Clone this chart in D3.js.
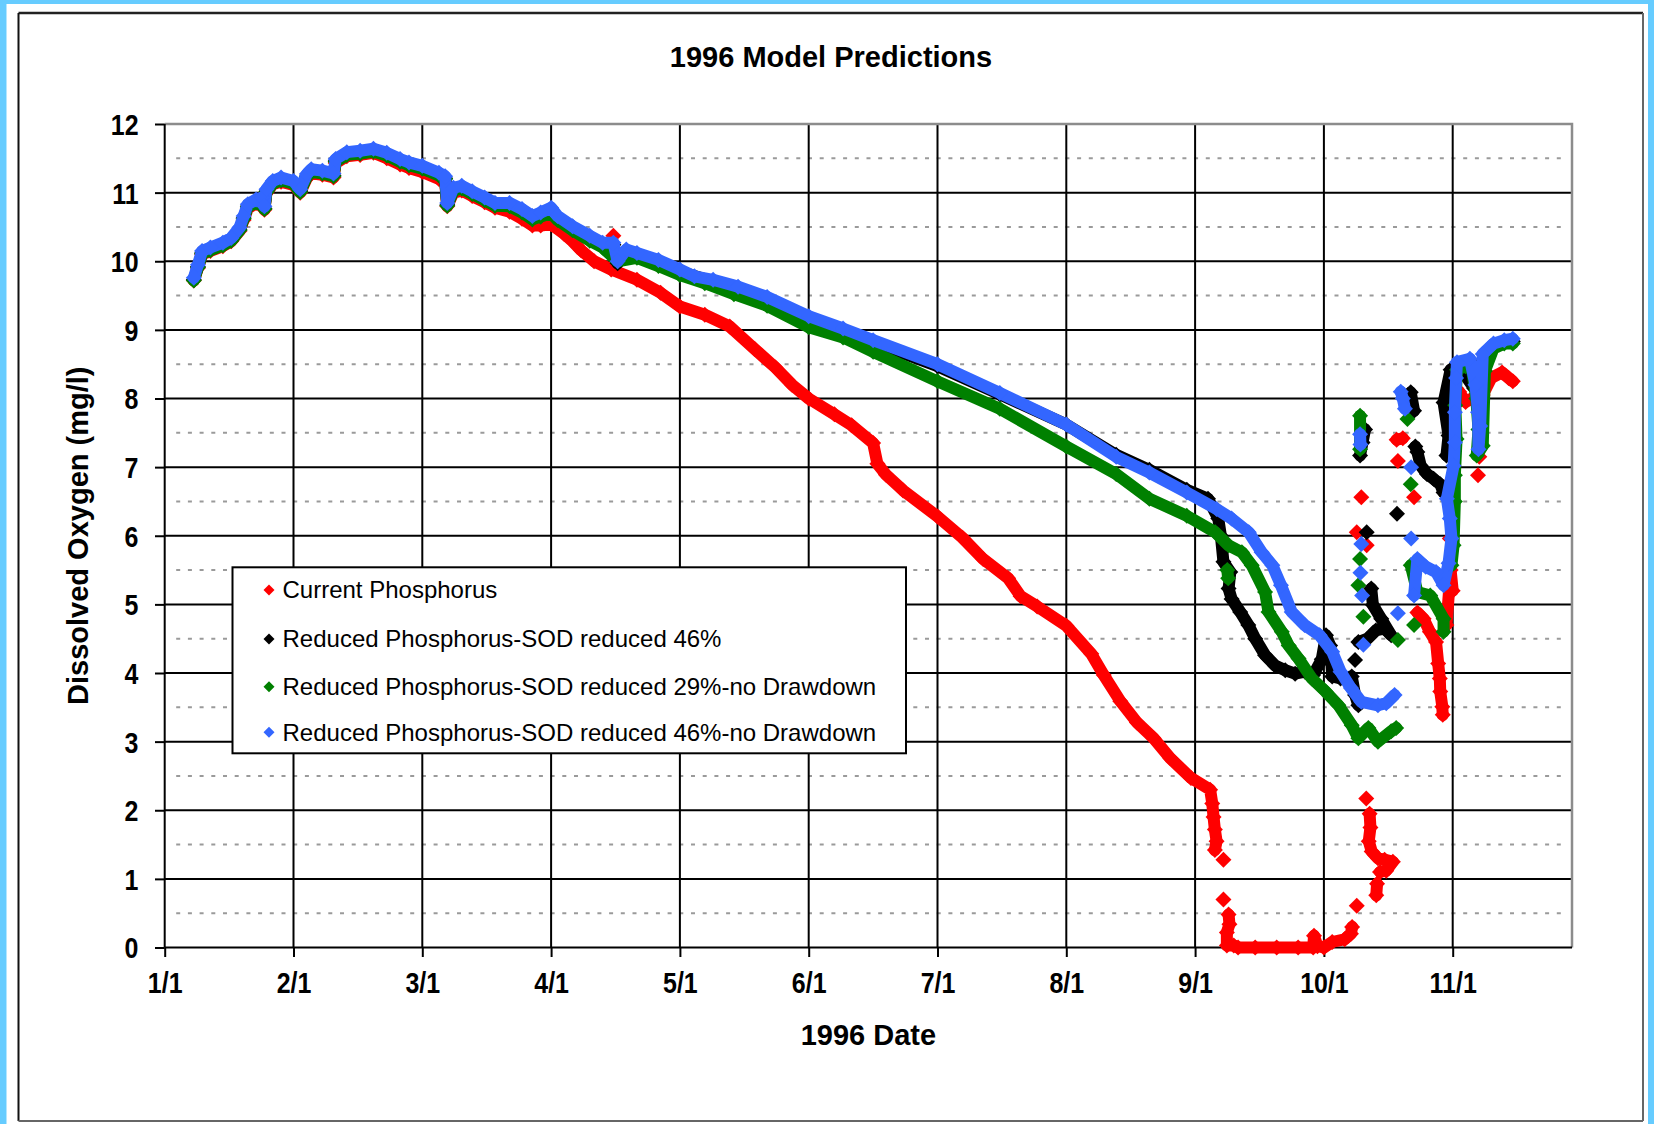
<!DOCTYPE html>
<html><head><meta charset="utf-8">
<script src="https://cdn.jsdelivr.net/npm/d3@7"></script>
<style>
html,body{margin:0;padding:0;background:#66CCFF;}
svg{display:block;}
text{font-family:"Liberation Sans",Arial,sans-serif;}
</style></head><body>
<svg id="chart" width="1654" height="1124"></svg>
<script>
// ---------------- data ----------------
const chartTitle = "1996 Model Predictions";
const xAxisTitle = "1996 Date";
const yAxisTitle = "Dissolved Oxygen (mg/l)";
const monthTicks = ["1/1","2/1","3/1","4/1","5/1","6/1","7/1","8/1","9/1","10/1","11/1"];
const yTicks = [0,1,2,3,4,5,6,7,8,9,10,11,12];
const seriesNames = [
  "Current Phosphorus",
  "Reduced Phosphorus-SOD reduced 46%",
  "Reduced Phosphorus-SOD reduced 29%-no Drawdown",
  "Reduced Phosphorus-SOD reduced 46%-no Drawdown"
];
const seriesColors = ["#FF0000","#000000","#008000","#3366FF"];

// [month, day, DO mg/l]; null separates groups of markers
const currentP = [
[1,8,9.72],[1,9,9.9],[1,10,10.1],[1,12,10.15],[1,15,10.22],[1,17,10.29],[1,19,10.44],[1,20,10.6],[1,21,10.77],[1,23,10.85],[1,24.5,10.88],[1,25,10.75],[1,25.5,11.0],[1,27,11.12],[1,29,11.16],[2,1,11.11],[2,2.5,11.0],[2,4,11.21],[2,5,11.28],[2,7.5,11.26],[2,10,11.22],[2,10.5,11.43],[2,13,11.53],[2,16,11.55],[2,19,11.58],[2,22,11.5],[2,25,11.41],[2,27,11.36],[3,1,11.3],[3,5,11.2],[3,6.5,11.15],[3,7,10.8],[3,8.5,11.0],[3,10.5,11.03],[3,13,10.95],[3,16,10.86],[3,18.5,10.78],[3,22,10.72],[3,25,10.62],[3,27.5,10.52],[3,29.5,10.52],[4,1,10.54],[4,4,10.4],[4,6,10.29],[4,8,10.16],[4,11,10.0],[4,15,9.88],[4,21,9.73],[4,26.5,9.54],[5,1,9.34],[5,7,9.22],[5,13,9.05],[5,19,8.72],[5,24,8.45],[5,28,8.2],[6,1,8.0],[6,7,7.77],[6,11,7.61],[6,16,7.35],[6,17,7.05],[6,19,6.89],[6,23,6.66],[7,1,6.28],[7,7,5.97],[7,12,5.66],[7,18,5.38],[7,21,5.12],[7,25,4.97],[8,1,4.69],[8,7,4.28],[8,10,3.97],[8,14,3.59],[8,18,3.28],[8,22,3.05],[8,26,2.76],[8,31,2.47],[9,4.5,2.3],[9,5,2.1],[9,5.3,1.9],[9,5.6,1.72],[9,6,1.55],[9,5.6,1.42],
null,[4,15.5,10.37],
null,[9,7.6,1.28],null,[9,7.6,0.7],
null,[9,8.8,0.48],[9,9,0.34],[9,8.4,0.22],[9,8.4,0.03],[9,10,0.03],[9,11,0],[9,15,0],[9,20,0],[9,25,0],[9,28.5,0],[9,28.7,0.17],[9,29.5,0.02],[10,1,0],[10,3,0.08],[10,6,0.12],[10,7.5,0.2],[10,7.8,0.3],
null,[10,8.9,0.61],
null,[10,11.2,2.17],null,[10,12,1.95],[10,12.2,1.75],[10,11.8,1.55],[10,12.5,1.4],[10,14,1.3],[10,15.6,1.28],[10,17.6,1.25],[10,16,1.12],[10,14.5,1.1],
null,[10,13.8,0.93],[10,13.6,0.76],
null,[10,10,6.56],null,[10,8.9,6.05],null,[10,11.3,5.86],
null,[10,18.5,7.4],[10,20,7.42],null,[10,18.8,7.09],null,[10,22.7,6.56],null,[10,30.5,6.73],null,[10,31.3,5.96],
null,[10,23.5,4.88],[10,25,4.79],[10,26.5,4.6],[10,28,4.45],[10,28.5,4.14],[10,28.9,3.92],[10,29,3.73],[10,29.5,3.51],[10,29.6,3.39],
null,[10,30.5,4.7],[10,31.5,5.5],[11,1,5.2],
null,[11,1,7.7],[11,1.5,8.0],[11,2.5,8.1],[11,4,7.95],[11,5.5,8.0],[11,7,7.95],[11,8,8.05],[11,10,8.3],[11,12.5,8.38],[11,14,8.3],[11,15,8.25],
null,[11,6.9,6.88],null,[11,7.2,7.15]
];

const reduced46 = [
[1,8,9.73],[1,9,9.92],[1,10,10.12],[1,12,10.17],[1,15,10.24],[1,17,10.31],[1,19,10.46],[1,20,10.63],[1,21,10.8],[1,23,10.87],[1,24.5,10.9],[1,25,10.77],[1,25.5,11.02],[1,27,11.14],[1,29,11.19],[2,1,11.14],[2,2.5,11.02],[2,4,11.24],[2,5,11.31],[2,7.5,11.29],[2,10,11.25],[2,10.5,11.46],[2,13,11.56],[2,16,11.58],[2,19,11.61],[2,22,11.55],[2,25,11.46],[2,27,11.41],[3,1,11.36],[3,5,11.26],[3,6.5,11.21],[3,7,10.82],[3,8.5,11.04],[3,10.5,11.07],[3,13,10.99],[3,16,10.9],[3,18.5,10.82],[3,22,10.82],[3,25,10.73],[3,27.5,10.63],[3,29.5,10.68],[4,1,10.75],[4,2.5,10.63],[4,6,10.48],[4,10,10.34],[4,13,10.24],[4,15.5,10.24],[4,16.5,9.97],[4,18.5,10.14],[4,21,10.09],[4,26,9.99],[5,1,9.85],[5,9,9.7],[5,15,9.6],[5,22,9.45],[6,1,9.17],[6,9,8.99],[6,16,8.82],[7,1,8.47],[7,16,8.06],[8,1,7.62],[8,13,7.18],[8,21,6.96],[8,30,6.67],[9,4,6.54],[9,6.4,6.25],[9,7,6.0],[9,7.6,5.62],[9,9.2,5.47],[9,8.8,5.23],[9,9.5,5.08],[9,11.5,4.89],[9,13.4,4.7],[9,15,4.5],[9,17.3,4.26],[9,19.6,4.11],[9,22,4.04],[9,24.3,3.99],[9,26.6,4.02],[9,28.5,3.97],[9,30.5,4.2],[10,1.5,4.55],[10,2.5,4.4],[10,3,3.95],[10,5,3.92],[10,7.7,3.95],[10,8.5,3.68],[10,9.3,3.53],
null,[10,10.9,7.55],[10,10.3,7.36],[10,9.7,7.17],
null,[10,11.3,6.05],null,[10,8.5,4.19],
null,[10,9.3,4.45],[10,11.5,4.5],[10,13.5,4.62],[10,15.6,4.65],[10,17.2,4.55],[10,14.8,4.79],[10,12.8,4.99],[10,12.4,5.23],
null,[10,18.6,6.32],
null,[10,21.9,8.09],[10,22.7,7.82],
null,[10,23,7.3],[10,23.5,7.22],[10,24.3,7.02],[10,25.8,6.9],[10,27.4,6.83],[10,29,6.75],[10,29.8,6.63],
null,[10,30.5,7.17],[10,31,7.46],[10,29.8,7.94],[10,31.5,8.42],[11,3,8.42],[11,6,8.15],[11,7.5,8.1],[11,8,8.55],[11,10,8.75],[11,13,8.82],[11,15,8.83]
];

const reduced29NoDD = [
[1,8,9.72],[1,9,9.91],[1,10,10.11],[1,12,10.16],[1,15,10.23],[1,17,10.3],[1,19,10.45],[1,20,10.62],[1,21,10.79],[1,23,10.86],[1,24.5,10.89],[1,25,10.76],[1,25.5,11.01],[1,27,11.13],[1,29,11.18],[2,1,11.13],[2,2.5,11.01],[2,4,11.23],[2,5,11.3],[2,7.5,11.28],[2,10,11.24],[2,10.5,11.45],[2,13,11.55],[2,16,11.57],[2,19,11.6],[2,22,11.54],[2,25,11.45],[2,27,11.4],[3,1,11.35],[3,5,11.25],[3,6.5,11.2],[3,7,10.81],[3,8.5,11.03],[3,10.5,11.06],[3,13,10.98],[3,16,10.89],[3,18.5,10.81],[3,22,10.8],[3,25,10.71],[3,27.5,10.61],[3,29.5,10.65],[4,1,10.7],[4,2.5,10.6],[4,6,10.45],[4,10,10.3],[4,13,10.2],[4,16.5,10.0],[4,21,10.05],[4,26,9.93],[5,1,9.8],[5,7,9.68],[5,14,9.52],[5,22,9.35],[6,1,9.04],[6,9,8.89],[6,16,8.68],[7,1,8.25],[7,16,7.85],[8,1,7.3],[8,13,6.9],[8,21,6.54],[8,30,6.29],[9,5.7,6.05],[9,8.8,5.86],[9,11.9,5.76],[9,14.2,5.57],[9,17.3,5.18],[9,18.1,4.89],[9,21.2,4.6],[9,22.8,4.4],[9,25.1,4.21],[9,28.2,3.92],[10,1.4,3.73],[10,4.5,3.53],[10,7.7,3.24],[10,9.3,3.05],[10,11.7,3.2],[10,14,3.0],[10,17.2,3.15],[10,18.4,3.2],
null,[9,8.5,5.5],[9,8.7,5.38],
null,[10,9.7,7.75],[10,9.7,7.26],null,[10,9.7,5.66],null,[10,9.3,5.28],null,[10,10.5,4.82],
null,[10,21.1,7.7],null,[10,21.9,6.75],
null,[10,21.9,5.57],[10,23.5,5.18],[10,26.6,5.13],[10,29.8,4.79],[10,29.8,4.6],
null,[10,22.7,4.7],null,[10,18.8,4.48],
null,[10,31.7,5.57],[11,1.2,5.86],[11,1.5,6.5],[11,1.5,6.88],[11,1.9,7.41],[11,1.6,7.9],[11,2,8.42],[11,4,8.47],[11,5.5,8.42],[11,6.5,8.0],[11,7,7.55],[11,6.6,7.17],[11,8,7.31],[11,8.5,8.4],[11,10.5,8.73],[11,13,8.8],[11,15,8.8]
];

const reduced46NoDD = [
[1,8,9.76],[1,9,9.95],[1,10,10.15],[1,12,10.2],[1,15,10.27],[1,17,10.34],[1,19,10.49],[1,20,10.66],[1,21,10.83],[1,23,10.9],[1,24.5,10.93],[1,25,10.8],[1,25.5,11.05],[1,27,11.17],[1,29,11.22],[2,1,11.17],[2,2.5,11.05],[2,4,11.27],[2,5,11.34],[2,7.5,11.32],[2,10,11.28],[2,10.5,11.49],[2,13,11.59],[2,16,11.61],[2,19,11.64],[2,22,11.58],[2,25,11.49],[2,27,11.44],[3,1,11.39],[3,5,11.29],[3,6.5,11.24],[3,7,10.85],[3,8.5,11.07],[3,10.5,11.1],[3,13,11.02],[3,16,10.93],[3,18.5,10.85],[3,22,10.85],[3,25,10.76],[3,27.5,10.66],[3,29.5,10.71],[4,1,10.78],[4,2.5,10.66],[4,6,10.51],[4,10,10.37],[4,13,10.27],[4,15.5,10.27],[4,16.5,10.0],[4,18.5,10.17],[4,21,10.12],[4,26,10.02],[5,1,9.88],[5,4.5,9.78],[5,9,9.73],[5,15,9.63],[5,22,9.48],[6,1,9.2],[6,9,9.02],[6,16,8.85],[7,1,8.5],[7,16,8.08],[8,1,7.62],[8,13,7.15],[8,21,6.92],[8,30,6.63],[9,6,6.39],[9,9.5,6.25],[9,13.5,6.05],[9,16.5,5.76],[9,19,5.57],[9,21,5.28],[9,23.5,4.89],[9,26.5,4.7],[9,30,4.55],[10,3,4.31],[10,5,4.02],[10,7.5,3.78],[10,10,3.58],[10,14,3.53],[10,16,3.56],[10,18,3.68],
null,[10,9.7,7.48],[10,9.8,7.33],null,[10,10,5.88],null,[10,9.8,5.46],null,[10,10.2,5.13],null,[10,10.5,4.41],
null,[10,19.5,8.1],[10,20,8.0],[10,20.5,7.85],null,[10,22,7.0],null,[10,22,5.96],null,[10,18.8,4.87],
null,[10,22.7,5.13],[10,23.5,5.66],[10,25.5,5.55],[10,28,5.47],[10,29.8,5.28],[10,31,5.6],[10,31.7,5.96],[10,31.3,6.25],[10,30.6,6.54],[11,1.2,7.02],[11,1.5,7.36],[11,1.5,7.8],[11,1.8,8.3],[11,2,8.53],[11,5,8.58],[11,6.3,8.2],[11,6.9,7.8],[11,7,7.26],[11,7.4,7.6],[11,8,8.65],[11,10.5,8.8],[11,13,8.85],[11,15,8.87]
];

const seriesData = [currentP, reduced46, reduced29NoDD, reduced46NoDD];

// ---------------- layout ----------------
const W = 1654, H = 1124;
const P = {left:164.7, right:1572, top:124, bottom:947.5};
const MONTH_W = 128.8;

const svg = d3.select("#chart");

const toDate = (m, d) => new Date(new Date(1996, m - 1, 1).getTime() + (d - 1) * 864e5);
const monthStarts = d3.range(12).map(i => new Date(1996, i, 1));
const x = d3.scaleTime()
  .domain(monthStarts)
  .range(monthStarts.map((_, i) => P.left + i * MONTH_W));
const y = d3.scaleLinear().domain([0, 12]).range([P.bottom, P.top]);

// chart area
svg.append("rect").attr("x", 6.5).attr("y", 4).attr("width", 1641.5).attr("height", H - 4).attr("fill", "#fff");
svg.append("line").attr("x1",18.5).attr("x2",1643).attr("y1",13).attr("y2",13).attr("stroke","#222").attr("stroke-width",2.5);
svg.append("line").attr("x1",18.5).attr("x2",18.5).attr("y1",13).attr("y2",1121).attr("stroke","#111").attr("stroke-width",2);
svg.append("line").attr("x1",1643).attr("x2",1643).attr("y1",13).attr("y2",1121).attr("stroke","#666").attr("stroke-width",2);
svg.append("line").attr("x1",18.5).attr("x2",1643).attr("y1",1121).attr("y2",1121).attr("stroke","#666").attr("stroke-width",2);

// title
svg.append("text").attr("x", 831).attr("y", 67).attr("text-anchor","middle")
  .attr("font-size", 29).attr("font-weight","bold").text(chartTitle);

// minor dashed gridlines
const minor = d3.range(0.5, 12, 1);
svg.append("g").selectAll("line").data(minor).join("line")
  .attr("x1", P.left + 11.5).attr("x2", P.right - 6)
  .attr("y1", d => y(d)).attr("y2", d => y(d))
  .attr("stroke", "#9a9a9a").attr("stroke-width", 2).attr("stroke-dasharray", "4 7.7");

// major gridlines
svg.append("g").selectAll("line").data(yTicks.filter(v => v > 0 && v < 12)).join("line")
  .attr("x1", P.left).attr("x2", P.right)
  .attr("y1", d => y(d)).attr("y2", d => y(d))
  .attr("stroke", "#000").attr("stroke-width", 2);
svg.append("g").selectAll("line").data(monthStarts.slice(1, 11)).join("line")
  .attr("x1", d => x(d)).attr("x2", d => x(d))
  .attr("y1", P.top).attr("y2", P.bottom)
  .attr("stroke", "#000").attr("stroke-width", 2);

// plot border (gray) top & right
svg.append("path")
  .attr("d", `M${P.left},${P.top}H${P.right}V${P.bottom}`)
  .attr("fill", "none").attr("stroke", "#8c8c8c").attr("stroke-width", 2.5);

function squeeze(sel, f) {
  sel.each(function () {
    const w = this.getComputedTextLength();
    d3.select(this).attr("textLength", w * f).attr("lengthAdjust", "spacingAndGlyphs");
  });
}

// y axis
const gy = svg.append("g").attr("transform", `translate(${P.left},0)`)
  .call(d3.axisLeft(y).tickValues(yTicks).tickFormat(d3.format("d")).tickSize(9.7).tickPadding(16.5));
gy.select(".domain").remove();
gy.selectAll(".tick line").attr("stroke", "#000").attr("stroke-width", 2);
gy.selectAll(".tick text").attr("font-size", 29).attr("font-weight", "bold").attr("fill", "#000")
  .attr("font-family", '"Liberation Sans", Arial, sans-serif').attr("dy", "0.36em");
squeeze(gy.selectAll(".tick text"), 0.86);
svg.append("line").attr("x1", P.left).attr("x2", P.left).attr("y1", P.top).attr("y2", P.bottom)
  .attr("stroke", "#000").attr("stroke-width", 2);

// x axis
const gx = svg.append("g").attr("transform", `translate(0,${P.bottom})`)
  .call(d3.axisBottom(x).tickValues(monthStarts.slice(0, 11)).tickFormat((d, i) => monthTicks[i]).tickSize(9.5).tickPadding(15.4));
gx.select(".domain").remove();
gx.selectAll(".tick line").attr("stroke", "#000").attr("stroke-width", 2);
gx.selectAll(".tick text").attr("font-size", 29).attr("font-weight", "bold").attr("fill", "#000")
  .attr("font-family", '"Liberation Sans", Arial, sans-serif');
squeeze(gx.selectAll(".tick text"), 0.86);
svg.append("line").attr("x1", P.left).attr("x2", P.right).attr("y1", P.bottom).attr("y2", P.bottom)
  .attr("stroke", "#000").attr("stroke-width", 2);

// axis titles
svg.append("text").attr("x", (P.left + P.right) / 2).attr("y", 1045).attr("text-anchor", "middle")
  .attr("font-size", 29).attr("font-weight", "bold").text(xAxisTitle);
svg.append("text").attr("transform", `translate(88,${(P.top + P.bottom) / 2}) rotate(-90)`)
  .attr("text-anchor", "middle").attr("font-size", 29).attr("font-weight", "bold").text(yAxisTitle);

// series
const diamond = r => `M0,${-r}L${r},0L0,${r}L${-r},0Z`;
function groups(arr) {
  const out = [[]];
  arr.forEach(p => { if (p === null) out.push([]); else out[out.length - 1].push(p); });
  return out.filter(g => g.length);
}
const line = d3.line().x(p => x(toDate(p[0], p[1]))).y(p => y(p[2])).curve(d3.curveLinear);

seriesData.forEach((arr, si) => {
  const g = svg.append("g").attr("class", "series s" + si);
  const gs = groups(arr);
  g.selectAll("path.band").data(gs.filter(s => s.length > 1)).join("path")
    .attr("class", "band").attr("d", line)
    .attr("fill", "none").attr("stroke", seriesColors[si]).attr("stroke-width", 12)
    .attr("stroke-linejoin", "round").attr("stroke-linecap", "round");
  g.selectAll("path.mk").data(arr.filter(p => p !== null)).join("path")
    .attr("class", "mk")
    .attr("transform", p => `translate(${x(toDate(p[0], p[1]))},${y(p[2])})`)
    .attr("d", diamond(8)).attr("fill", seriesColors[si]);
});

// legend
const L = {x: 232.5, y: 567.3, w: 673.5, h: 186};
const lg = svg.append("g");
lg.append("rect").attr("x", L.x).attr("y", L.y).attr("width", L.w).attr("height", L.h)
  .attr("fill", "#fff").attr("stroke", "#000").attr("stroke-width", 2);
const rowY = [590, 639, 686.7, 732.3];
const item = lg.selectAll("g.item").data(seriesNames).join("g").attr("class", "item")
  .attr("transform", (d, i) => `translate(0,${rowY[i]})`);
item.append("path").attr("transform", "translate(269,0)").attr("d", diamond(5.5))
  .attr("fill", (d, i) => seriesColors[i]);
item.append("text").attr("x", 282.5).attr("y", 0).attr("dy", "0.35em")
  .attr("font-size", 24).attr("fill", "#000").text(d => d);
</script>
</body></html>
